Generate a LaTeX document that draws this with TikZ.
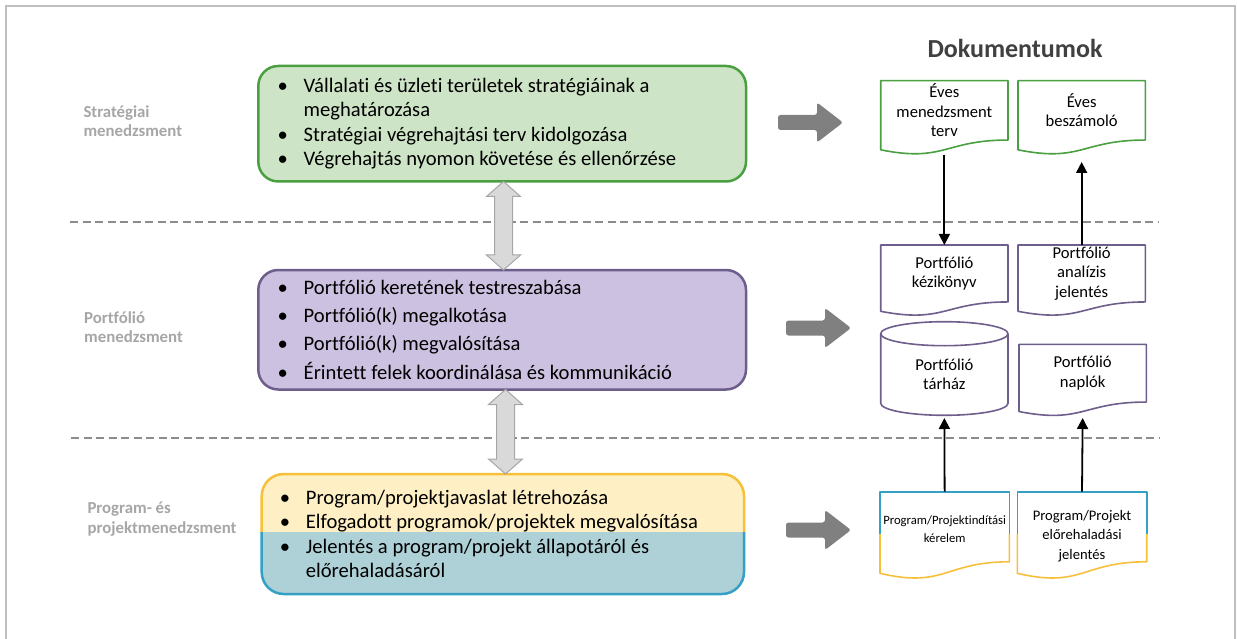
\documentclass[tikz,border=0pt]{standalone}
\usepackage{fontspec}
\setmainfont{Carlito}[Ligatures=NoCommon]
\usetikzlibrary{calc,arrows.meta}

\definecolor{framegray}{RGB}{191,191,191}
\definecolor{labelgray}{RGB}{166,166,166}
\definecolor{titlegray}{RGB}{64,64,64}
\definecolor{sepgray}{RGB}{140,140,140}
\definecolor{stratline}{RGB}{74,160,64}
\definecolor{stratfill}{RGB}{206,228,199}
\definecolor{portline}{RGB}{110,94,140}
\definecolor{portfill}{RGB}{204,193,224}
\definecolor{progline}{RGB}{247,192,58}
\definecolor{progfill}{RGB}{254,240,196}
\definecolor{repline}{RGB}{52,160,196}
\definecolor{repfill}{RGB}{174,208,215}
\definecolor{blockgray}{RGB}{128,128,128}
\definecolor{dblfill}{RGB}{217,217,217}
\definecolor{dblline}{RGB}{166,166,166}

% bullet and continuation indent for the list texts
\newcommand\bulletmark{\makebox[26pt][l]{\textbullet}}
\newcommand\contmark{\hspace*{26pt}}

% document symbol: straight top and sides, wavy bottom edge
\newcommand\docoutline[3]{%
  \draw[docline,#3] ([yshift={-0.802*#2pt}]#1.north east) -- (#1.north east) -- (#1.north west)
    -- ([yshift={-0.934*#2pt}]#1.north west)
    .. controls ([yshift={-1.1075*#2pt}]#1.north) and ([yshift={-0.802*#2pt}]#1.north) ..
    ([yshift={-0.802*#2pt}]#1.north east) -- cycle;}

% document symbol with a two-coloured outline
\newcommand\docsplit[5]{%
  \draw[docline,#4] ([yshift=-#3pt]#1.north west) -- (#1.north west) -- (#1.north east)
    -- ([yshift=-#3pt]#1.north east);
  \draw[docline,#5] ([yshift=-#3pt]#1.north east) -- ([yshift={-0.802*#2pt}]#1.north east)
    .. controls ([yshift={-0.802*#2pt}]#1.north) and ([yshift={-1.1075*#2pt}]#1.north) ..
    ([yshift={-0.934*#2pt}]#1.north west) -- ([yshift=-#3pt]#1.north west);}

% vertical two-headed block arrow between two points
\newcommand\dblarrow[2]{%
  \draw[dblshape] (#1) -- ++(17,15) -- ++(-8,0) -- ($(#2)+(9,-15)$) -- ++(8,0) -- (#2)
    -- ++(-17,-15) -- ++(8,0) -- ($(#1)+(-9,15)$) -- ++(-8,0) -- cycle;}

\tikzset{
  bigbox/.style={rounded corners=20pt, line width=2.5pt, inner sep=0pt, outer sep=0pt, anchor=north west},
  listtext/.style={anchor=west, inner sep=0pt, align=left, font=\fontsize{20.6pt}{24.3pt}\selectfont},
  sidelabel/.style={anchor=west, inner sep=0pt, align=left, text=labelgray,
    font=\bfseries\fontsize{16.8pt}{19.5pt}\selectfont},
  docnode/.style={anchor=north west, inner sep=0pt, outer sep=0pt, align=center,
    minimum width=127.3pt, font=\fontsize{16.6pt}{19.5pt}\selectfont},
  docline/.style={line width=1.6pt, line join=round},
  flow/.style={-{Triangle[length=11pt,width=11pt]}, line width=1.8pt},
  sepline/.style={draw=sepgray, line width=1.8pt, dash pattern=on 8pt off 4.5pt},
  dblshape/.style={fill=dblfill, draw=dblline, line width=1pt, line join=miter},
  blockarrow/.pic={\fill[blockgray, rounded corners=2.5pt] (0,0) -- (-26,-20) -- (-26,-7.5)
    -- (-65,-7.5) -- (-65,7.5) -- (-26,7.5) -- (-26,20) -- cycle;}
}

\begin{document}
\begin{tikzpicture}[x=1pt,y=-1pt]
\useasboundingbox (0,0) rectangle (1237,639);

% outer frame (open at the bottom)
\draw[framegray, line width=2pt] (6,639) -- (6,6) -- (1235,6) -- (1235,639);

% level separators
\draw[sepline] (70,221.7) -- (1158,221.7);
\draw[sepline] (71,437.7) -- (1160,437.7);

% level names
\node[sidelabel] (lstrat) at (83.3,121) {Stratégiai\\menedzsment};
\node[sidelabel] (lport) at (84,327) {Portfólió\\menedzsment};
\node[sidelabel] (lprog) at (87.3,519.3) {Program- és\\projektmenedzsment};

% strategic level
\node[bigbox, draw=stratline, fill=stratfill, minimum width=487.7pt, minimum height=115.5pt]
  (strat) at (258.3,66) {};
\node[listtext] (strattext) at ([xshift=19.2pt]strat.west) {%
  \bulletmark Vállalati és üzleti területek stratégiáinak a\\
  \contmark meghatározása\\
  \bulletmark Stratégiai végrehajtási terv kidolgozása\\
  \bulletmark Végrehajtás nyomon követése és ellenőrzése};

% portfolio level
\node[bigbox, draw=portline, fill=portfill, minimum width=487.7pt, minimum height=119.5pt]
  (port) at (258.3,270) {};
\node[listtext, font=\fontsize{20.6pt}{28.3pt}\selectfont] (porttext) at ([xshift=19.2pt]port.west) {%
  \bulletmark Portfólió keretének testreszabása\\
  \bulletmark Portfólió(k) megalkotása\\
  \bulletmark Portfólió(k) megvalósítása\\
  \bulletmark Érintett felek koordinálása és kommunikáció};

% program and project level: two-tone box
\node[bigbox, minimum width=482.3pt, minimum height=120pt, rounded corners=22pt] (prog) at (261.7,474) {};
\begin{scope}
  \clip (240,460) rectangle (760,532.7);
  \draw[rounded corners=22pt, line width=2.5pt, draw=progline, fill=progfill]
    (prog.north west) rectangle (prog.south east);
\end{scope}
\begin{scope}
  \clip (240,532.7) rectangle (760,610);
  \draw[rounded corners=22pt, line width=2.5pt, draw=repline, fill=repfill]
    (prog.north west) rectangle (prog.south east);
\end{scope}
\node[listtext, font=\fontsize{20.6pt}{24.5pt}\selectfont] (progtext) at ([xshift=18pt]prog.west) {%
  \bulletmark Program/projektjavaslat létrehozása\\
  \bulletmark Elfogadott programok/projektek megvalósítása\\
  \bulletmark Jelentés a program/projekt állapotáról és\\
  \contmark előrehaladásáról};

% links between the levels
\coordinate (da1) at ([xshift=1.35pt]strat.south);
\coordinate (db1) at (da1 |- port.north);
\dblarrow{da1}{db1}
\coordinate (da2) at ([xshift=3.35pt]port.south);
\coordinate (db2) at (da2 |- prog.north);
\dblarrow{da2}{db2}

% block arrows towards the documents
\pic at (843,122.5) {blockarrow};
\pic at (851,328) {blockarrow};
\pic at (851,530) {blockarrow};

% documents
\node[font=\bfseries\fontsize{26pt}{30pt}\selectfont, text=titlegray, inner sep=0pt] (dok) at (1015,48) {Dokumentumok};

\node[docnode, minimum height=59.3pt] (doc1) at (880.7,80.7) {Éves\\menedzsment\\terv};
\docoutline{doc1}{74}{stratline}
\node[docnode, minimum height=59.3pt] (doc2) at (1018,80.7) {Éves\\beszámoló};
\docoutline{doc2}{74}{stratline}

\node[docnode, minimum height=57pt] (doc3) at (880.7,245) {Portfólió\\kézikönyv};
\docoutline{doc3}{71}{portline}
\node[docnode, minimum height=57pt] (doc4) at (1018,245) {Portfólió\\analízis\\jelentés};
\docoutline{doc4}{71}{portline}

\node[docnode, minimum height=57.6pt] (tarhaz) at (880.7,345.7) {Portfólió\\tárház};
\draw[docline, portline] ([yshift=12pt]tarhaz.north west) -- (tarhaz.south west)
  arc[start angle=180, end angle=360, x radius=63.65pt, y radius=12pt]
  -- ([yshift=12pt]tarhaz.north east);
\draw[docline, portline] ([yshift=12pt]tarhaz.north) ellipse[x radius=63.65pt, y radius=12pt];

\node[docnode, minimum height=57.7pt] (doc5) at (1019,344.3) {Portfólió\\naplók};
\docoutline{doc5}{72}{portline}

\node[docnode, minimum width=129.3pt, minimum height=74.6pt, font=\fontsize{12.7pt}{17.5pt}\selectfont]
  (doc6) at (880,491.7) {Program/Projektindítási\\kérelem};
\docsplit{doc6}{87.4}{42.3}{repline}{progline}
\node[docnode, minimum width=129.4pt, minimum height=88.6pt, font=\fontsize{14.6pt}{19.2pt}\selectfont]
  (doc7) at (1017.3,491.7) {Program/Projekt\\előrehaladási\\jelentés};
\docsplit{doc7}{87.4}{42.3}{repline}{progline}

% document flow
\draw[flow] ([yshift=-74pt]doc1.north) -- (doc3.north);
\draw[flow] (doc4.north) -- ([yshift=-81.3pt]doc2.north);
\draw[flow] (doc6.north) -- ([yshift=-72.3pt]tarhaz.north);
\draw[flow] (doc7.north) -- ([yshift=-73.7pt]doc5.north);
\end{tikzpicture}
\end{document}
